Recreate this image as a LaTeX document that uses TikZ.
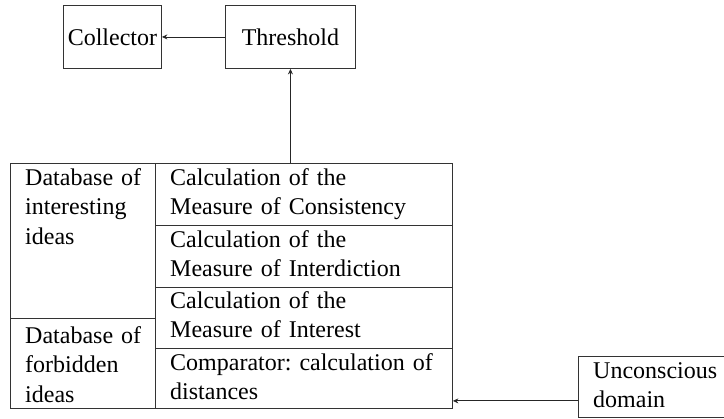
\documentclass[tikz,border=0pt]{standalone}
\usepackage{fontspec}
\setmainfont{Liberation Serif}
\frenchspacing
\usetikzlibrary{arrows.meta,calc}
\begin{document}
\begin{tikzpicture}[x=1pt,y=1pt,
  cell/.style={draw=black!80,line width=0.9pt,rectangle,inner sep=0pt,anchor=north west},
  txt/.style={anchor=north west,inner sep=0pt,align=left,text width=#1,
     font=\fontsize{24}{29.5}\selectfont},
  ctxt/.style={inner sep=0pt,font=\fontsize{24}{29.5}\selectfont},
  arr/.style={draw=black!85,line width=0.8pt,-{Stealth[length=5.5pt,width=5pt]}}]
\useasboundingbox (0,0) rectangle (724,-419);
\clip (0,0) rectangle (724,-419);
% top boxes
\node[cell,minimum width=98pt,minimum height=63pt] (col) at (63,-5) {};
\node[ctxt] (colt) at (col.center) {Collector};
\node[cell,minimum width=130pt,minimum height=63pt] (thr) at (225,-5) {};
\node[ctxt] (thrt) at (thr.center) {Threshold};
% table cells
\node[cell,minimum width=145pt,minimum height=155pt] (dbi) at (10,-163) {};
\node[cell,minimum width=145pt,minimum height=90pt] (dbf) at (10,-318) {};
\node[cell,minimum width=297pt,minimum height=62pt] (r1) at (155,-163) {};
\node[cell,minimum width=297pt,minimum height=62pt] (r2) at (155,-225) {};
\node[cell,minimum width=297pt,minimum height=61pt] (r3) at (155,-287) {};
\node[cell,minimum width=297pt,minimum height=60pt] (r4) at (155,-348) {};
% texts
\node[txt=130pt] (dbit) at ($(dbi.north west)+(15,0)$) {\rule{0pt}{22pt}Database of\\interesting\\ideas};
\node[txt=130pt] (dbft) at ($(dbf.north west)+(15,0)$) {\rule{0pt}{25pt}Database of\\forbidden\\ideas};
\node[txt=285pt] (r1t) at ($(r1.north west)+(15,0)$) {\rule{0pt}{22pt}Calculation of the\\Measure of Consistency};
\node[txt=285pt] (r2t) at ($(r2.north west)+(15,0)$) {\rule{0pt}{22pt}Calculation of the\\Measure of Interdiction};
\node[txt=285pt] (r3t) at ($(r3.north west)+(15,0)$) {\rule{0pt}{21pt}Calculation of the\\Measure of Interest};
\node[txt=285pt] (r4t) at ($(r4.north west)+(15,0)$) {\rule{0pt}{22pt}Comparator: calculation of\\distances};
% unconscious box
\node[cell,minimum width=180pt,minimum height=61pt] (unc) at (578,-356) {};
\node[txt=140pt] (unct) at ($(unc.north west)+(15,0)$) {\rule{0pt}{22pt}Unconscious\\domain};
% connectors
\draw[arr] (thr.west) -- (col.east);
\draw[arr] (thr.south |- r1.north) -- (thr.south);
\coordinate (ua) at ($(unc.south west)+(0,17)$);
\draw[arr] (ua) -- (ua -| r4.east);
\end{tikzpicture}
\end{document}
